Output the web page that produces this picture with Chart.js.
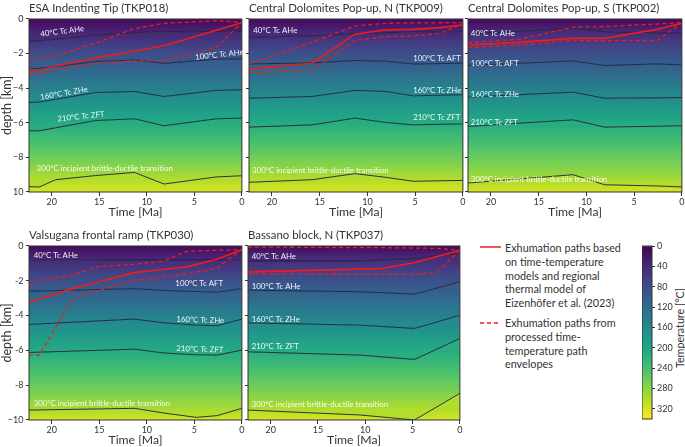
<!DOCTYPE html>
<html>
<head>
<meta charset="utf-8">
<script src="https://cdn.jsdelivr.net/npm/chart.js@4.4.1/dist/chart.umd.min.js"></script>
<style>
  body { margin: 0; width: 685px; height: 447px; overflow: hidden; background: #fff; position: relative; font-family: Lato, sans-serif; color: #333; }
  canvas { position: absolute; }
  .leg { position: absolute; font-size: 10.8px; line-height: 13.8px; color: #333; white-space: nowrap; }
  .cbar-title { position: absolute; font-size: 10.7px; color: #333; white-space: nowrap; transform: translate(-50%, -50%) rotate(-90deg); }
</style>
</head>
<body>

<svg style="position:absolute;left:479px;top:244px" width="24" height="6"><line x1="1" y1="3" x2="22" y2="3" stroke="#ee1c1c" stroke-width="1.5"/></svg>
<div class="leg" style="left:505px;top:241px">Exhumation paths based<br>on time-temperature<br>models and regional<br>thermal model of<br>Eizenhöfer et al. (2023)</div>
<svg style="position:absolute;left:479px;top:320px" width="24" height="6"><line x1="1" y1="3" x2="22" y2="3" stroke="#ee1c1c" stroke-width="1.3" stroke-dasharray="4,3"/></svg>
<div class="leg" style="left:505px;top:316px">Exhumation paths from<br>processed time-<br>temperature path<br>envelopes</div>
<div class="cbar-title" style="left:679px;top:328px">Temperature [°C]</div>

<script>
// shared axes
const X_TICKS = [20, 15, 10, 5, 0];
const Y_TICKS = [0, -2, -4, -6, -8, -10];
const Y_LABELS_TOP = ['0', '−2', '−4', '−6', '−8', '10'];
const Y_LABELS_BOTTOM = ['0', '-2', '-4', '-6', '-8', '−10'];
const ISO_TEMPS = [40, 100, 160, 210, 300];
const CBAR_RANGE = [0, 340];
const CBAR_TICKS = [0, 40, 80, 120, 160, 200, 240, 280, 320];

// ESA Indenting Tip (TKP018)
const p1Time = [22.4, 21.3, 19.6, 15.4, 11.3, 8.2, 2.7, 0];
const p1Iso40 = [-1.31, -1.27, -1.17, -0.93, -0.78, -0.76, -0.72, -0.70];
const p1Iso100 = [-2.90, -2.85, -2.75, -2.46, -2.37, -2.56, -2.33, -2.31];
const p1Iso160 = [-4.83, -4.80, -4.65, -4.25, -4.19, -4.48, -4.13, -4.10];
const p1Iso210 = [-6.46, -6.46, -6.29, -5.87, -5.77, -6.17, -5.77, -5.73];
const p1Iso300 = [-9.69, -9.71, -9.29, -9.05, -8.87, -9.54, -9.13, -9.06];
const p1PathTime = [22.4, 21.3, 19.6, 15.4, 11.3, 8.2, 2.7, 0];
const p1Path = [-2.94, -2.98, -2.72, -2.25, -1.85, -1.55, -0.65, -0.22];
const p1Upper = [-2.37, -2.30, -2.10, -1.40, -0.55, -0.25, -0.10, -0.20];
const p1Lower = [-3.17, -3.20, -2.94, -2.56, -2.42, -2.40, -1.65, -0.21];

// Central Dolomites Pop-up, N (TKP009)
const p2Time = [22.4, 15.8, 11.3, 8.1, 5.2, 0];
const p2Iso40 = [-1.06, -0.98, -0.83, -0.79, -0.76, -0.73];
const p2Iso100 = [-2.60, -2.54, -2.40, -2.44, -2.60, -2.56];
const p2Iso160 = [-4.58, -4.48, -4.13, -4.19, -4.44, -4.38];
const p2Iso210 = [-6.25, -6.12, -5.73, -5.98, -6.12, -6.06];
const p2Iso300 = [-9.44, -9.29, -8.94, -9.15, -9.38, -9.33];
const p2PathTime = [22.4, 15.8, 11.3, 8.1, 5.2, 2.4, 0];
const p2Path = [-2.90, -2.56, -0.88, -0.63, -0.60, -0.50, -0.35];
const p2Upper = [-2.60, -1.35, -0.40, -0.25, -0.23, -0.22, -0.21];
const p2Lower = [-3.13, -2.98, -1.25, -1.02, -0.98, -0.83, -0.29];

// Central Dolomites Pop-up, S (TKP002)
const p3Time = [22.4, 11.4, 8.1, 2.7, 0];
const p3Iso40 = [-0.88, -0.54, -0.73, -0.80, -0.83];
const p3Iso100 = [-2.69, -2.42, -2.69, -2.60, -2.65];
const p3Iso160 = [-4.52, -4.23, -4.58, -4.56, -4.54];
const p3Iso210 = [-6.21, -5.83, -6.25, -6.20, -6.17];
const p3Iso300 = [-9.48, -9.00, -9.58, -9.65, -9.71];
const p3PathTime = [22.4, 17.1, 11.4, 8.1, 2.6, 0];
const p3Path = [-1.50, -1.35, -1.12, -1.12, -0.60, -0.25];
const p3Upper = [-1.37, -1.18, -0.48, -0.44, -0.29, -0.21];
const p3Lower = [-1.65, -1.50, -1.25, -1.25, -1.25, -0.21];

// Valsugana frontal ramp (TKP030)
const p4Time = [22.4, 11.3, 8.2, 4.8, 2.6, 0];
const p4Iso40 = [-0.82, -0.80, -0.80, -0.80, -0.80, -0.78];
const p4Iso100 = [-2.60, -2.45, -2.55, -2.62, -2.65, -2.45];
const p4Iso160 = [-4.51, -4.20, -4.42, -4.55, -4.58, -4.20];
const p4Iso210 = [-6.12, -5.93, -6.15, -6.25, -6.27, -5.98];
const p4Iso300 = [-9.43, -9.33, -9.60, -9.85, -9.75, -9.33];
const p4PathTime = [22.4, 21.3, 17.8, 15.4, 11.3, 8.2, 5.8, 2.7, 0];
const p4Path = [-3.25, -3.06, -2.45, -2.11, -1.53, -1.34, -1.20, -0.78, -0.21];
const p4Upper = [-2.31, -1.97, -1.68, -1.20, -1.05, -0.86, -0.31, -0.25, -0.21];
const p4Lower = [-6.27, -6.27, -3.02, -2.62, -1.97, -1.78, -1.59, -1.30, -0.21];

// Bassano block, N (TKP037)
const p5Time = [22.4, 10.6, 4.8, 0];
const p5Iso40 = [-0.86, -0.86, -0.72, -0.40];
const p5Iso100 = [-2.54, -2.63, -2.77, -2.06];
const p5Iso160 = [-4.42, -4.55, -4.74, -3.98];
const p5Iso210 = [-6.08, -6.27, -6.52, -5.32];
const p5Iso300 = [-9.43, -9.71, -10.0, -8.47];
const p5PathTime = [22.4, 8.3, 4.8, 2.4, 0];
const p5Path = [-1.49, -1.30, -0.96, -0.60, -0.25];
const p5Upper = [-0.06, -0.10, -0.12, -0.14, -0.25];
const p5Lower = [-1.59, -1.62, -1.64, -1.49, -0.25];

const T_SURF = 8;    // temperature at the surface (top of panels)
const T_BOT = 320;   // temperature at 10 km

const FONT = 'Lato';
const RED = '#ee1c1c';
const VIRIDIS = ['#440154', '#482475', '#414487', '#355f8d', '#2a788e', '#21918c',
                 '#22a884', '#44bf70', '#7ad151', '#bddf26', '#fde725'];

function hexRgb(h) {
    return [1, 3, 5].map(i => parseInt(h.substr(i, 2), 16));
}
function viridis(T) {
    const t = Math.min(1, Math.max(0, T / CBAR_RANGE[1])) * 10;
    const i = Math.min(9, Math.floor(t));
    const f = t - i;
    const a = hexRgb(VIRIDIS[i]), b = hexRgb(VIRIDIS[i + 1]);
    const c = a.map((v, k) => Math.round(v + (b[k] - v) * f));
    return 'rgb(' + c.join(',') + ')';
}
const mean = arr => arr.reduce((s, v) => s + v, 0) / arr.length;
const pts = (t, d) => t.map((v, i) => ({ x: v, y: d[i] }));

// vertical gradient between the mean depths of two isotherms
function bandFill(dTop, dBot, tTop, tBot) {
    return function (context) {
        const chart = context.chart;
        if (!chart.chartArea || !chart.scales.y) return 'rgba(0,0,0,0)';
        const y = chart.scales.y;
        const y0 = y.getPixelForValue(Array.isArray(dTop) ? mean(dTop) : dTop);
        const y1 = y.getPixelForValue(Array.isArray(dBot) ? mean(dBot) : dBot);
        const g = chart.ctx.createLinearGradient(0, y0, 0, y1);
        for (let k = 0; k <= 6; k++) {
            g.addColorStop(k / 6, viridis(tTop + (tBot - tTop) * k / 6));
        }
        return g;
    };
}

const framePlugin = {
    id: 'frame',
    afterDatasetsDraw(chart) {
        const a = chart.chartArea, ctx = chart.ctx;
        ctx.save();
        ctx.strokeStyle = '#333';
        ctx.lineWidth = 1;
        ctx.strokeRect(a.left, a.top, a.width, a.height);
        ctx.restore();
    }
};

const isoLabelPlugin = {
    id: 'isoLabels',
    afterDatasetsDraw(chart, args, opts) {
        if (!opts.items) return;
        const ctx = chart.ctx, x = chart.scales.x, y = chart.scales.y;
        ctx.save();
        ctx.font = '7.8px ' + FONT;
        ctx.fillStyle = 'rgba(255,255,255,0.92)';
        ctx.textBaseline = 'middle';
        opts.items.forEach(([text, t, d, ang]) => {
            ctx.save();
            ctx.translate(x.getPixelForValue(t), y.getPixelForValue(d));
            ctx.rotate(ang * Math.PI / 180);
            ctx.fillText(text, 0, 0);
            ctx.restore();
        });
        ctx.restore();
    }
};

function makePanel(p) {
    const yw = p.yLabels ? 29 : 4;
    const padR = 4;
    const canvas = document.createElement('canvas');
    canvas.width = p.box[2] - p.box[0] + yw + padR;
    canvas.height = p.box[3] - p.box[1] + 19 + 27;
    canvas.style.left = (p.box[0] - yw) + 'px';
    canvas.style.top = (p.box[1] - 19) + 'px';
    document.body.appendChild(canvas);

    const isoLine = '#1d1d33';
    const lineBase = { pointRadius: 0, tension: 0, borderJoinStyle: 'round' };
    const datasets = [
        { ...lineBase, data: pts(p.pathTime, p.path), borderColor: RED, borderWidth: 1.6, fill: false },
        { ...lineBase, data: pts(p.pathTime, p.upper), borderColor: RED, borderWidth: 1.3, borderDash: [4, 3], fill: false },
        { ...lineBase, data: pts(p.pathTime, p.lower), borderColor: RED, borderWidth: 1.3, borderDash: [4, 3], fill: false }
    ];
    const iso = p.iso;
    iso.forEach((d, i) => {
        datasets.push({
            ...lineBase,
            data: pts(p.time, d),
            borderColor: isoLine,
            borderWidth: 0.9,
            fill: i === 0 ? 'end' : '-1',
            backgroundColor: i === 0
                ? bandFill(0, d, T_SURF, ISO_TEMPS[0])
                : bandFill(iso[i - 1], d, ISO_TEMPS[i - 1], ISO_TEMPS[i])
        });
    });
    // deepest band, from the 300 °C isotherm down to the bottom
    const last = iso[iso.length - 1];
    datasets.push({
        ...lineBase,
        data: pts(p.time, last),
        borderColor: 'rgba(0,0,0,0)',
        borderWidth: 0,
        fill: 'start',
        backgroundColor: bandFill(last, -10, ISO_TEMPS[ISO_TEMPS.length - 1], T_BOT)
    });

    new Chart(canvas, {
        type: 'line',
        data: { datasets },
        options: {
            responsive: false,
            animation: false,
            layout: { padding: { left: 0, right: padR, top: 0, bottom: 0 } },
            plugins: {
                legend: { display: false },
                tooltip: { enabled: false },
                title: {
                    display: true, text: p.title, align: 'start', fullSize: false,
                    color: '#333', font: { family: FONT, size: 11.4, weight: 'normal', lineHeight: 1.2 },
                    padding: { top: 1, bottom: 4.3 }
                },
                isoLabels: { items: p.labels }
            },
            scales: {
                x: {
                    type: 'linear', min: 0, max: 22.4, reverse: true,
                    afterBuildTicks: s => { s.ticks = X_TICKS.map(v => ({ value: v })); },
                    afterFit: s => { s.height = 27; },
                    grid: { drawOnChartArea: false, drawTicks: true, tickLength: 4, color: '#333' },
                    border: { display: false },
                    ticks: { autoSkip: false, maxRotation: 0, padding: 1.5, color: '#333',
                             font: { family: FONT, size: 9, lineHeight: 1 } },
                    title: { display: true, text: 'Time [Ma]', color: '#333',
                             font: { family: FONT, size: 12.2, lineHeight: 1 }, padding: { top: 0, bottom: 0.9 } }
                },
                y: {
                    type: 'linear', min: -10, max: 0,
                    afterBuildTicks: s => { s.ticks = Y_TICKS.map(v => ({ value: v })); },
                    afterFit: s => { s.width = yw; },
                    grid: { drawOnChartArea: false, drawTicks: true, tickLength: 3, color: '#333' },
                    border: { display: false },
                    ticks: {
                        display: !!p.yLabels, padding: 2.5, color: '#333',
                        font: { family: FONT, size: 9 },
                        callback: v => p.yLabels ? p.yLabels[Y_TICKS.indexOf(v)] : ''
                    },
                    title: { display: !!p.yLabels, text: 'depth [km]', color: '#333',
                             font: { family: FONT, size: 12.5, lineHeight: 1 }, padding: { top: 0.8, bottom: 0 } }
                }
            }
        },
        plugins: [framePlugin, isoLabelPlugin]
    });
}

makePanel({
    title: 'ESA Indenting Tip (TKP018)', box: [29, 19, 242, 192], yLabels: Y_LABELS_TOP,
    time: p1Time, iso: [p1Iso40, p1Iso100, p1Iso160, p1Iso210, p1Iso300],
    pathTime: p1PathTime, path: p1Path, upper: p1Upper, lower: p1Lower,
    labels: [
        ['40°C Tc AHe', 21.2, -0.88, -7.5],
        ['100°C Tc AHe', 4.9, -2.21, -6],
        ['160°C Tc ZHe', 21.2, -4.53, -10],
        ['210°C Tc ZFT', 19.4, -5.78, -6],
        ['300°C incipient brittle-ductile transition', 21.6, -8.63, 0]
    ]
});
makePanel({
    title: 'Central Dolomites Pop-up, N (TKP009)', box: [249, 19, 463, 192], yLabels: null,
    time: p2Time, iso: [p2Iso40, p2Iso100, p2Iso160, p2Iso210, p2Iso300],
    pathTime: p2PathTime, path: p2Path, upper: p2Upper, lower: p2Lower,
    labels: [
        ['40°C Tc AHe', 21.96, -0.69, 0],
        ['100°C Tc AFT', 5.2, -2.27, 0],
        ['160°C Tc ZHe', 5.2, -4.14, 0],
        ['210°C Tc ZFT', 5.2, -5.7, 0],
        ['300°C incipient brittle-ductile transition', 22.06, -8.73, 0]
    ]
});
makePanel({
    title: 'Central Dolomites Pop-up, S (TKP002)', box: [468, 19, 682, 192], yLabels: null,
    time: p3Time, iso: [p3Iso40, p3Iso100, p3Iso160, p3Iso210, p3Iso300],
    pathTime: p3PathTime, path: p3Path, upper: p3Upper, lower: p3Lower,
    labels: [
        ['40°C Tc AHe', 22.1, -0.83, 0],
        ['100°C Tc AFT', 22.1, -2.56, 0],
        ['160°C Tc ZHe', 22.1, -4.39, 0],
        ['210°C Tc ZFT', 22.1, -5.97, 0],
        ['300°C incipient brittle-ductile transition', 22.1, -9.25, 0]
    ]
});
makePanel({
    title: 'Valsugana frontal ramp (TKP030)', box: [29, 246, 242, 420], yLabels: Y_LABELS_BOTTOM,
    time: p4Time, iso: [p4Iso40, p4Iso100, p4Iso160, p4Iso210, p4Iso300],
    pathTime: p4PathTime, path: p4Path, upper: p4Upper, lower: p4Lower,
    labels: [
        ['40°C Tc AHe', 21.9, -0.56, 0],
        ['100°C Tc AFT', 7.0, -2.18, 0],
        ['160°C Tc ZHe', 6.9, -4.2, 2],
        ['210°C Tc ZFT', 6.9, -5.88, 2],
        ['300°C incipient brittle-ductile transition', 21.9, -9.04, 0]
    ]
});
makePanel({
    title: 'Bassano block, N (TKP037)', box: [248, 246, 460, 420], yLabels: null,
    time: p5Time, iso: [p5Iso40, p5Iso100, p5Iso160, p5Iso210, p5Iso300],
    pathTime: p5PathTime, path: p5Path, upper: p5Upper, lower: p5Lower,
    labels: [
        ['40°C Tc AHe', 22.0, -0.61, 0],
        ['100°C Tc AHe', 22.0, -2.3, 0],
        ['160°C Tc ZHe', 22.0, -4.2, 0],
        ['210°C Tc ZFT', 22.0, -5.79, 0],
        ['300°C incipient brittle-ductile transition', 22.0, -9.08, 0]
    ]
});

// colour bar
(function () {
    const canvas = document.createElement('canvas');
    canvas.width = 10 + 30;
    canvas.height = 173 + 20;
    canvas.style.left = '642px';
    canvas.style.top = '236px';
    document.body.appendChild(canvas);
    new Chart(canvas, {
        type: 'bar',
        data: {
            labels: ['T'],
            datasets: [{
                data: [CBAR_RANGE],
                barPercentage: 1, categoryPercentage: 1, borderWidth: 0,
                backgroundColor: function (context) {
                    const chart = context.chart;
                    if (!chart.chartArea || !chart.scales.y) return 'rgba(0,0,0,0)';
                    const y = chart.scales.y;
                    const g = chart.ctx.createLinearGradient(0, y.getPixelForValue(CBAR_RANGE[0]), 0, y.getPixelForValue(CBAR_RANGE[1]));
                    VIRIDIS.forEach((c, i) => g.addColorStop(i / 10, c));
                    return g;
                }
            }]
        },
        options: {
            responsive: false,
            animation: false,
            layout: { padding: { top: 10, bottom: 10, left: 0, right: 0 } },
            plugins: { legend: { display: false }, tooltip: { enabled: false } },
            scales: {
                x: { display: false },
                y: {
                    position: 'right', min: CBAR_RANGE[0], max: CBAR_RANGE[1], reverse: true,
                    afterBuildTicks: s => { s.ticks = CBAR_TICKS.map(v => ({ value: v })); },
                    afterFit: s => { s.width = 30; },
                    grid: { drawOnChartArea: false, drawTicks: true, tickLength: 3, color: '#333' },
                    border: { display: false },
                    ticks: { autoSkip: false, padding: 2, color: '#333', font: { family: FONT, size: 9 } }
                }
            }
        },
        plugins: [framePlugin]
    });
})();
</script>
</body>
</html>
